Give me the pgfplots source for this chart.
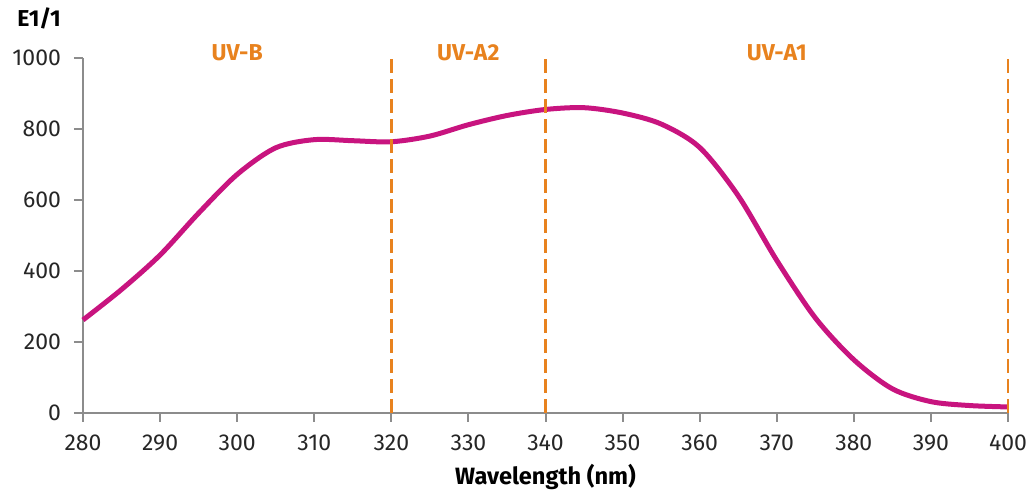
\documentclass[border=0pt]{standalone}
\usepackage{fontspec}
\setmainfont{Fira Sans}
\usepackage{pgfplots}
\pgfplotsset{compat=1.18}
\definecolor{curve}{HTML}{C8147F}
\definecolor{uvorange}{HTML}{E8821E}
\definecolor{axgray}{HTML}{8C8C8C}
\begin{document}
\begin{tikzpicture}
\begin{axis}[
  at={(0,0)}, anchor=south west,
  scale only axis,
  width=462.5pt, height=177.5pt,
  xmin=280, xmax=400, ymin=0, ymax=1000,
  axis x line*=bottom, axis y line*=left,
  axis line style={axgray, line width=1pt},
  xtick={280,290,...,400}, ytick={0,200,...,1000},
  tick style={axgray, line width=1pt},
  tick align=outside, major tick length=4.5pt,
  /pgf/number format/assume math mode=true,
  /pgf/number format/set thousands separator={},
  ticklabel style={font=\fontsize{11.5}{13}\selectfont, text=black!85},
  yticklabel style={xshift=-3pt},
  xticklabel style={yshift=-3pt},
  clip=false,
  xlabel={\textbf{Wavelength (nm)}},
  xlabel style={font=\fontsize{11.8}{13}\selectfont, yshift=0.5pt},
]
\addplot[curve, line width=2.5pt, smooth] coordinates {
(280,262)(285,348)(290,445)(295,563)(300,672)(305,747)(310,770)(315,767)
(320,764)(325,780)(330,812)(335,838)(340,855)(345,860)(350,845)(355,814)
(360,748)(365,612)(370,430)(375,268)(380,150)(385,68)(390,32)(395,21)(400,17)};
\addplot[uvorange, line width=1.4pt, dash pattern=on 7pt off 3pt] coordinates {(320,0)(320,1000)};
\addplot[uvorange, line width=1.4pt, dash pattern=on 7pt off 3pt] coordinates {(340,0)(340,1000)};
\addplot[uvorange, line width=1.4pt, dash pattern=on 7pt off 3pt] coordinates {(400,0)(400,1000)};
\node[text=uvorange, font=\bfseries\fontsize{11.5}{13}\selectfont] at (axis cs:300,1014) {UV-B};
\node[text=uvorange, font=\bfseries\fontsize{11.5}{13}\selectfont] at (axis cs:330,1014) {UV-A2};
\node[text=uvorange, font=\bfseries\fontsize{11.5}{13}\selectfont] at (axis cs:370,1014) {UV-A1};
\end{axis}
\node[font=\bfseries\fontsize{11.5}{13}\selectfont] at (-22pt,197.5pt) {E1/1};
\pgfresetboundingbox
\path[use as bounding box] (-41.5pt,-38.5pt) rectangle (472.5pt,206.5pt);
\end{tikzpicture}
\end{document}
